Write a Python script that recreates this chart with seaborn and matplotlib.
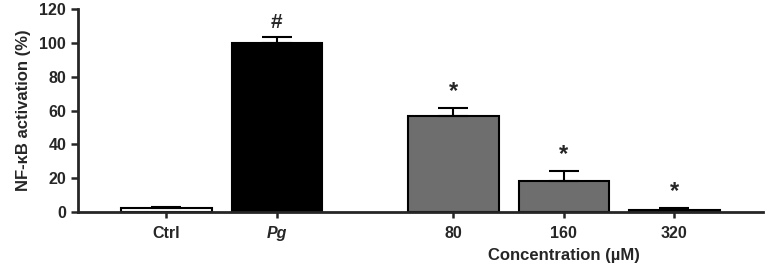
import matplotlib
matplotlib.use("Agg")
import matplotlib.pyplot as plt
import numpy as np
import pandas as pd
import seaborn as sns

sns.set_style("ticks")
plt.rcParams['font.family'] = ['Liberation Sans', 'DejaVu Sans']
plt.rcParams['font.weight'] = 'bold'

# values
groups = ["Ctrl", "Pg", "80", "160", "320"]
activation = [2.2, 100.0, 56.8, 18.5, 1.2]
sem = [1.0, 3.5, 4.7, 5.8, 1.0]
marks = ["", "#", "*", "*", "*"]
bar_colors = ["white", "black", "#6e6e6e", "#6e6e6e", "#6e6e6e"]

# x layout: gap between Pg and the concentration series
xpos = [0, 1, 2.6, 3.6, 4.6]

data = pd.DataFrame({"pos": xpos, "group": groups, "value": activation})

fig = plt.figure(figsize=(7.65, 2.68), dpi=100)
ax = fig.add_axes([0.102, 0.209, 0.895, 0.757])

sns.barplot(data=data, x="pos", y="value", hue="group", palette=bar_colors,
            native_scale=True, width=0.82, edgecolor="black", linewidth=1.5,
            legend=False, ax=ax, errorbar=None, dodge=False)

# upper error bars only
ax.errorbar(xpos, activation, yerr=[np.zeros(len(sem)), sem], fmt="none",
            ecolor="black", elinewidth=1.5, capsize=11, capthick=1.5)

for x, v, e, m in zip(xpos, activation, sem, marks):
    if m:
        ax.text(x, v + e + 3, m, ha="center", va="bottom",
                fontsize=15 if m == "#" else 17, fontweight="bold")

ax.set_xlim(-0.8, 5.4)
ax.set_ylim(0, 120)
ax.set_yticks(range(0, 121, 20))
ax.set_xticks(xpos)
ax.set_xticklabels(groups)
ax.get_xticklabels()[1].set_style("italic")
ax.tick_params(axis="both", labelsize=11.5, width=1.8, length=5, direction="out")
ax.tick_params(axis="x", length=4, pad=6)
for lab in ax.get_xticklabels() + ax.get_yticklabels():
    lab.set_fontweight("bold")

ax.set_ylabel("NF-κB activation (%)", fontsize=12, fontweight="bold", labelpad=6)
ax.set_xlabel("")
ax.text(3.6, -26, "Concentration (µM)", ha="center", va="center",
        fontsize=12, fontweight="bold")

sns.despine(ax=ax)
for s in ["left", "bottom"]:
    ax.spines[s].set_linewidth(2)

fig.savefig("out.png", dpi=100)
